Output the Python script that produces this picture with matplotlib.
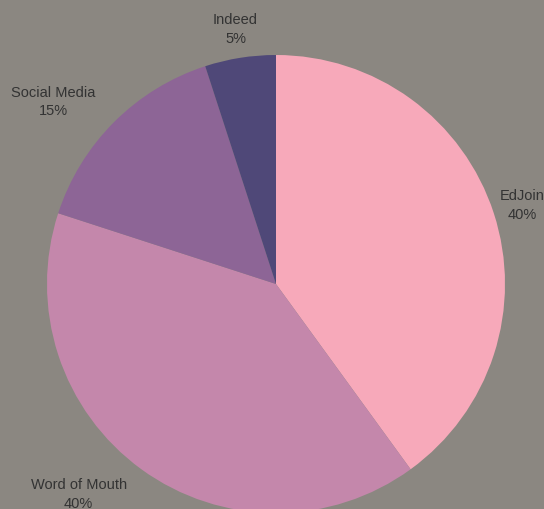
import numpy as np
import matplotlib.pyplot as plt

# data
sources = ["EdJoin", "Word of Mouth", "Social Media", "Indeed"]
shares = [40, 40, 15, 5]
colors = ["#F7A9BA", "#C487AB", "#8D6596", "#4F4878"]
bg = "#8B8781"

fig = plt.figure(figsize=(5.44, 5.10), dpi=100)
fig.patch.set_facecolor(bg)
ax = fig.add_axes([47/544, -4/510, 458/544, 458/510])
ax.set_facecolor(bg)

wedges, _ = ax.pie(shares, colors=colors, startangle=90, counterclock=False,
                   radius=1.0, wedgeprops=dict(linewidth=0))
ax.set_xlim(-1, 1)
ax.set_ylim(-1, 1)
ax.set_aspect("equal")
ax.axis("off")

# labels outside each slice
for w, name, val in zip(wedges, sources, shares):
    mid = np.deg2rad((w.theta1 + w.theta2) / 2)
    x, y = 1.13*np.cos(mid), 1.13*np.sin(mid)
    ha = "right" if x < -0.5 else "center"
    if ha == "right":
        x += 0.012
    ax.text(x, y, f"{name}\n{val}%", ha=ha, va="center", multialignment="center",
            fontsize=10.5, color="#333333", family="Liberation Sans",
            linespacing=1.45, clip_on=False)

fig.savefig("out.png", dpi=100, facecolor=bg)
